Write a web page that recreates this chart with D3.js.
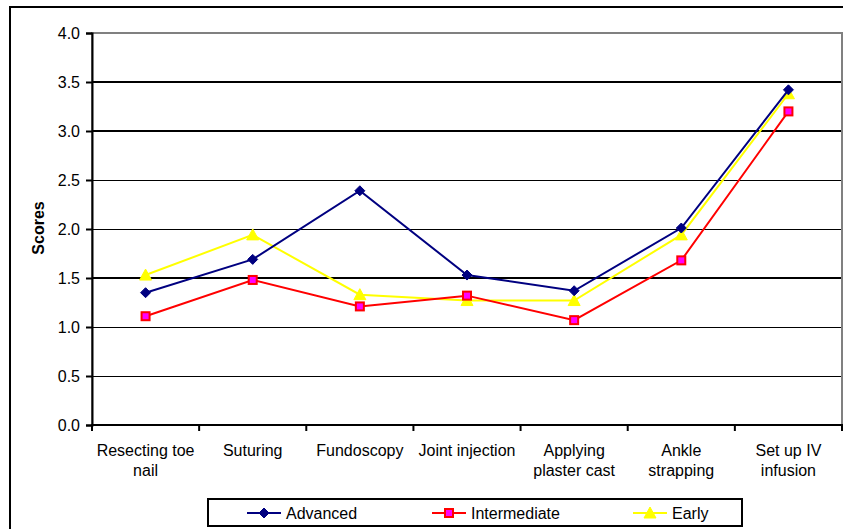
<!DOCTYPE html>
<html>
<head>
<meta charset="utf-8">
<script src="https://cdn.jsdelivr.net/npm/d3@7"></script>
<style>
  html, body { margin: 0; padding: 0; background: #fff; }
  svg { display: block; font-family: Arial, "Liberation Sans", sans-serif; }
</style>
</head>
<body>
<svg id="chart" width="843" height="529"></svg>
<script>
// Skill procedures rated by trainees at three stages
const categories = [
  ["Resecting toe", "nail"],
  ["Suturing"],
  ["Fundoscopy"],
  ["Joint injection"],
  ["Applying", "plaster cast"],
  ["Ankle", "strapping"],
  ["Set up IV", "infusion"]
];
const advanced     = [1.35, 1.69, 2.39, 1.53, 1.37, 2.01, 3.42];
const intermediate = [1.11, 1.48, 1.21, 1.32, 1.07, 1.68, 3.20];
const early        = [1.53, 1.94, 1.33, 1.27, 1.27, 1.94, 3.38];
const yTicks = [0, 0.5, 1.0, 1.5, 2.0, 2.5, 3.0, 3.5, 4.0];

const series = [
  { name: "Advanced", values: advanced, color: "#000080", marker: "diamond" },
  { name: "Intermediate", values: intermediate, color: "#FF0000", marker: "square" },
  { name: "Early", values: early, color: "#FFFF00", marker: "triangle" }
];

const svg = d3.select("#chart");
const plot = { left: 92, top: 33, right: 842, bottom: 425 };

// Outer chart frame
svg.append("rect")
  .attr("x", 10).attr("y", 7)
  .attr("width", 860).attr("height", 560)
  .attr("fill", "#fff").attr("stroke", "#000").attr("stroke-width", 2);

const x = d3.scaleBand()
  .domain(d3.range(categories.length))
  .range([plot.left, plot.right])
  .paddingInner(0).paddingOuter(0);

const y = d3.scaleLinear().domain([0, 4]).range([plot.bottom, plot.top]);

// Plot area border (top/right in grey)
svg.append("rect")
  .attr("x", plot.left).attr("y", plot.top)
  .attr("width", plot.right - plot.left).attr("height", plot.bottom - plot.top)
  .attr("fill", "#fff").attr("stroke", "#808080").attr("stroke-width", 2);

// Horizontal gridlines
const heavy = new Set([1.5, 3.0, 3.5]);
svg.append("g").selectAll("line")
  .data(yTicks.filter(t => t > 0 && t < 4))
  .join("line")
  .attr("x1", plot.left).attr("x2", plot.right - 1)
  .attr("y1", d => heavy.has(d) ? y(d) : y(d) + 0.5)
  .attr("y2", d => heavy.has(d) ? y(d) : y(d) + 0.5)
  .attr("stroke", "#000")
  .attr("stroke-width", d => heavy.has(d) ? 2 : 1);

// Y axis
const yAxis = svg.append("g")
  .attr("transform", `translate(${plot.left},0)`)
  .call(d3.axisLeft(y).tickValues(yTicks).tickFormat(d3.format(".1f")).tickSize(6).tickPadding(6));
yAxis.select(".domain").attr("stroke", "#000").attr("stroke-width", 2);
yAxis.selectAll(".tick line").attr("stroke", "#000").attr("stroke-width", 2);
yAxis.selectAll(".tick text")
  .attr("font-size", 16).attr("fill", "#000")
  .attr("font-family", "Arial, 'Liberation Sans', sans-serif");

// X axis: tick marks on category boundaries
const xAxisG = svg.append("g");
xAxisG.append("line")
  .attr("x1", plot.left - 1).attr("x2", plot.right + 1)
  .attr("y1", plot.bottom).attr("y2", plot.bottom)
  .attr("stroke", "#000").attr("stroke-width", 2);
xAxisG.selectAll("line.tk")
  .data(d3.range(categories.length + 1))
  .join("line").attr("class", "tk")
  .attr("x1", i => i < categories.length ? x(i) : plot.right)
  .attr("x2", i => i < categories.length ? x(i) : plot.right)
  .attr("y1", plot.bottom).attr("y2", plot.bottom + 6)
  .attr("stroke", "#000").attr("stroke-width", 2);

// Category labels
const labels = svg.append("g").selectAll("text")
  .data(categories)
  .join("text")
  .attr("x", (d, i) => x(i) + x.bandwidth() / 2)
  .attr("y", 456)
  .attr("text-anchor", "middle")
  .attr("font-size", 16)
  .attr("fill", "#000");
labels.selectAll("tspan")
  .data(d => d)
  .join("tspan")
  .attr("x", function () { return d3.select(this.parentNode).attr("x"); })
  .attr("dy", (d, i) => i === 0 ? 0 : 19.5)
  .text(d => d);

// Y axis title
svg.append("text")
  .attr("transform", "translate(44,228) rotate(-90)")
  .attr("text-anchor", "middle")
  .attr("font-size", 16)
  .attr("font-weight", "bold")
  .text("Scores");

// Marker drawing
function drawMarker(g, type, color) {
  if (type === "diamond") {
    g.append("path").attr("d", "M0,-5L5,0L0,5L-5,0Z")
      .attr("fill", color).attr("stroke", color).attr("stroke-width", 1);
  } else if (type === "square") {
    g.append("rect").attr("x", -4).attr("y", -4).attr("width", 8).attr("height", 8)
      .attr("fill", "#FF00FF").attr("stroke", color).attr("stroke-width", 2);
  } else {
    g.append("path").attr("d", "M0,-6L6,5L-6,5Z")
      .attr("fill", color).attr("stroke", color).attr("stroke-width", 1);
  }
}

const line = d3.line()
  .x((d, i) => x(i) + x.bandwidth() / 2)
  .y(d => y(d));

// Draw series in reverse order so Advanced sits on top
[...series].reverse().forEach(s => {
  svg.append("path")
    .datum(s.values)
    .attr("d", line)
    .attr("fill", "none")
    .attr("stroke", s.color)
    .attr("stroke-width", 2);
  s.values.forEach((v, i) => {
    const g = svg.append("g")
      .attr("transform", `translate(${x(i) + x.bandwidth() / 2},${y(v)})`);
    drawMarker(g, s.marker, s.color);
  });
});

// Legend
const legend = svg.append("g");
legend.append("rect")
  .attr("x", 208).attr("y", 499)
  .attr("width", 534).attr("height", 27)
  .attr("fill", "#fff").attr("stroke", "#000").attr("stroke-width", 2);
const legendX = [247, 432, 633];
series.forEach((s, i) => {
  const g = legend.append("g").attr("transform", `translate(${legendX[i]},513)`);
  g.append("line").attr("x1", 0).attr("x2", 34).attr("y1", 0).attr("y2", 0)
    .attr("stroke", s.color).attr("stroke-width", 2);
  const m = g.append("g").attr("transform", "translate(17,0)");
  drawMarker(m, s.marker, s.color);
  g.append("text").attr("x", 39).attr("y", 5.5)
    .attr("font-size", 16).attr("fill", "#000").text(s.name);
});
</script>
</body>
</html>
